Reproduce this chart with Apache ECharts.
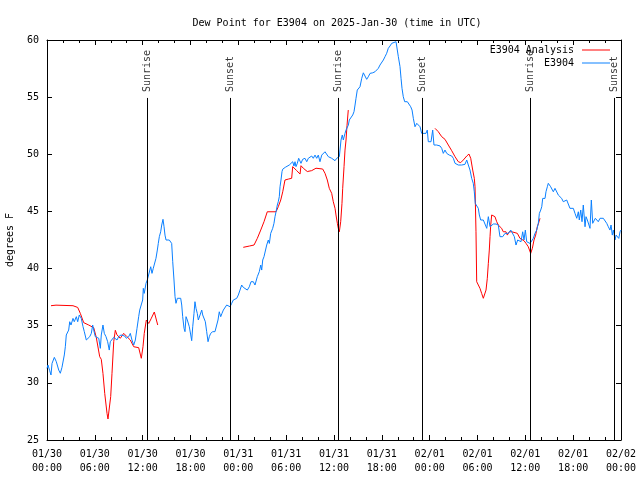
<!DOCTYPE html>
<html>
<head>
<meta charset="utf-8">
<script src="https://cdn.jsdelivr.net/npm/echarts@6/dist/echarts.min.js"></script>
<style>html,body{margin:0;padding:0;background:#fff}#c{width:640px;height:480px}</style>
</head>
<body>
<div id="c"></div>
<script>
// hours since 01/30 00:00 UTC
const tickLabels = ['01/30\n00:00','01/30\n06:00','01/30\n12:00','01/30\n18:00','01/31\n00:00','01/31\n06:00','01/31\n12:00','01/31\n18:00','02/01\n00:00','02/01\n06:00','02/01\n12:00','02/01\n18:00','02/02\n00:00'];
const sunHours = [12.58, 23.0, 36.55, 47.09, 60.64, 71.18];
const sunLabels = ['Sunrise','Sunset','Sunrise','Sunset','Sunrise','Sunset'];

const obsHours = [0,0.125,0.34,0.5,0.63,0.92,1.17,1.47,1.67,1.88,2.17,2.3,2.42,2.6,2.72,2.85,3.01,3.26,3.42,3.68,3.85,4.05,4.3,4.52,4.68,4.93,5.11,5.36,5.56,5.73,5.86,6.06,6.27,6.49,6.69,6.81,7.02,7.19,7.4,7.61,7.81,7.94,8.15,8.37,8.57,8.78,8.99,9.28,9.53,9.75,9.95,10.25,10.45,10.66,10.88,11.08,11.29,11.5,11.63,11.79,12.0,12.08,12.2,12.42,12.58,12.83,13.01,13.17,13.33,13.55,13.67,13.84,13.96,14.09,14.26,14.39,14.55,14.68,14.8,14.93,15.09,15.34,15.52,15.64,15.77,15.93,16.06,16.18,16.35,16.6,16.77,16.9,17.02,17.19,17.31,17.44,17.6,17.85,18.03,18.15,18.28,18.44,18.56,18.69,18.85,18.98,19.19,19.41,19.53,19.69,19.86,20.03,20.2,20.36,20.53,20.79,21.07,21.29,21.45,21.61,21.79,21.95,22.12,22.33,22.54,22.74,22.96,23.17,23.37,23.58,23.8,24.0,24.21,24.42,24.62,24.84,25.13,25.38,25.59,25.88,26.09,26.22,26.38,26.63,26.81,26.93,27.06,27.22,27.35,27.56,27.76,27.89,28.06,28.31,28.47,28.6,28.73,28.89,29.01,29.14,29.23,29.35,29.48,29.57,29.73,29.89,30.14,30.39,30.57,30.82,30.98,31.11,31.23,31.4,31.57,31.74,31.86,32.07,32.36,32.58,32.78,32.99,33.2,33.4,33.62,33.83,34.03,34.24,34.46,34.66,34.87,35.09,35.29,35.5,35.71,35.91,36.13,36.34,36.54,36.67,36.88,37.04,37.17,37.38,37.51,37.67,37.8,37.92,38.1,38.35,38.51,38.64,38.76,38.92,39.05,39.26,39.48,39.68,39.89,40.1,40.3,40.52,40.86,41.14,41.36,41.56,41.77,41.98,42.19,42.4,42.61,42.81,43.03,43.24,43.44,43.78,43.94,44.07,44.28,44.41,44.53,44.69,44.87,45.03,45.2,45.45,45.62,45.79,45.95,46.16,46.38,46.58,46.79,47.0,47.2,47.54,47.7,47.83,48.17,48.38,48.54,48.88,49.3,49.51,49.71,49.92,50.14,50.46,50.77,50.97,51.18,51.59,52.02,52.43,52.65,52.85,53.06,53.27,53.47,53.6,53.72,53.9,54.1,54.23,54.4,54.57,54.73,54.94,55.16,55.36,55.57,55.78,55.98,56.32,56.61,56.82,57.16,57.45,57.66,57.87,58.17,58.42,58.62,58.83,59.04,59.25,59.46,59.67,59.83,60.0,60.17,60.37,60.59,60.8,61.0,61.21,61.43,61.63,61.76,61.93,62.06,62.18,62.34,62.47,62.59,62.76,62.88,63.01,63.18,63.35,63.51,63.72,63.94,64.14,64.35,64.56,64.76,64.98,65.19,65.39,65.6,65.82,66.02,66.23,66.45,66.65,66.77,66.95,67.11,67.27,67.49,67.61,67.78,67.95,68.11,68.28,68.45,68.62,68.78,68.95,69.15,69.37,69.58,69.78,70.0,70.21,70.41,70.62,70.75,70.91,71.04,71.25,71.38,71.54,71.72,71.88,72.0];
const obsValues = [31.27,31.56,31.06,30.69,31.7,32.23,31.85,31.12,30.84,31.36,32.44,33.16,34.19,34.04,34.62,35.35,35.06,35.64,35.35,35.79,35.35,35.94,35.64,34.91,34.48,33.75,33.6,34.04,34.33,35.06,34.62,34.04,34.19,33.9,33.02,34.19,35.06,34.33,34.04,33.6,32.87,33.6,33.46,33.98,33.9,33.75,34.04,34.19,34.33,34.1,33.9,34.04,34.33,33.75,33.31,33.75,34.77,35.79,36.37,36.22,37.25,38.27,37.83,38.71,39.0,39.15,40.16,39.58,40.02,39.87,40.9,41.62,42.2,42.79,43.22,43.81,44.31,43.66,42.93,42.5,42.35,42.5,42.64,42.2,40.6,39.0,37.54,36.96,37.4,37.25,37.4,36.81,35.79,34.77,34.48,35.79,35.5,34.91,34.19,33.69,34.91,36.08,37.1,36.52,36.08,35.5,35.5,36.37,35.94,36.08,35.35,34.48,33.6,34.04,34.33,34.48,34.48,34.62,35.5,36.22,35.79,36.08,36.37,36.52,36.81,36.96,36.66,36.96,37.25,37.1,37.4,37.69,38.12,38.56,38.36,38.27,38.12,38.41,38.85,38.85,38.56,38.41,39.29,39.73,40.31,39.87,40.75,41.04,41.18,42.06,42.5,42.2,43.08,43.52,43.96,44.54,44.97,45.56,45.85,46.29,47.16,47.75,48.49,48.7,48.57,48.86,48.97,49.06,49.21,49.35,48.97,49.35,48.92,49.21,49.65,49.79,49.21,49.56,49.65,49.35,49.65,49.5,49.85,49.65,49.93,49.65,49.93,49.35,49.93,49.93,50.22,50.22,49.79,49.65,49.65,49.56,49.44,49.65,49.65,49.79,51.25,51.69,51.25,51.83,52.12,52.12,52.56,53.0,53.0,53.44,53.73,54.31,54.9,55.62,55.77,55.91,56.65,57.13,57.08,56.56,56.78,57.08,57.13,57.22,57.37,57.52,57.81,57.96,58.25,58.54,58.84,59.27,59.48,59.71,59.77,59.85,59.71,58.54,57.67,56.65,55.77,55.04,54.6,54.75,54.6,54.69,54.16,53.87,53.15,52.41,52.71,52.85,52.41,51.83,51.77,51.83,52.12,51.1,51.1,52.12,50.81,50.81,50.73,50.52,50.08,50.37,50.08,49.93,49.85,49.65,49.21,49.06,49.06,49.12,49.5,49.06,48.62,47.9,47.46,46.72,45.7,45.7,45.27,44.69,44.25,44.1,44.25,44.1,43.52,44.54,43.66,43.81,43.9,43.9,43.81,42.79,42.79,43.08,43.14,43.08,43.37,43.22,42.79,42.06,42.5,42.5,42.35,43.22,42.5,43.37,42.35,42.5,42.2,42.35,42.64,43.08,43.37,43.96,44.83,45.12,45.41,46.14,46.29,46.14,46.72,47.16,47.46,47.6,47.16,47.31,46.72,47.02,46.87,46.43,46.29,46.14,45.85,45.7,46.0,45.85,45.27,45.12,45.27,44.83,44.4,44.97,44.25,45.12,44.1,45.56,43.66,44.54,44.25,44.1,43.52,46.0,43.96,44.1,44.4,44.25,44.1,44.4,44.4,44.4,44.25,43.96,43.66,43.37,43.81,42.93,43.37,42.5,42.93,42.79,42.64,43.22,43.37];

const anaHours = [0.5,1.13,3.26,3.85,4.18,4.6,5.23,5.86,6.18,6.61,6.81,7.02,7.24,7.53,7.65,7.87,7.99,8.15,8.37,8.57,8.78,9.19,9.62,10.03,10.45,10.88,11.5,11.83,12.04,12.2,12.46,12.76,13.05,13.46,13.67,13.89,18,24.62,25.38,25.97,26.38,26.81,27.22,27.63,28.73,29.01,29.32,29.57,29.85,30.27,30.69,30.82,31.32,31.74,31.86,32.15,32.65,33.2,33.74,34.58,34.87,35.16,35.41,35.71,35.91,36.13,36.25,36.42,36.54,36.67,36.84,37.0,37.09,37.26,37.38,37.51,37.63,37.79,42,48.67,49.08,49.51,49.92,50.34,50.77,51.18,51.59,51.89,52.22,52.65,52.93,53.15,53.4,53.6,53.69,53.81,53.9,54.1,54.31,54.52,54.73,54.94,55.07,55.23,55.36,55.48,55.57,55.66,55.78,55.98,56.19,56.41,56.61,56.82,57.03,57.23,57.57,57.74,57.99,58.29,58.71,59.0,59.33,59.55,59.83,60.09,60.37,60.67,60.88,61.09,61.3,61.5,61.72,61.84];
const anaValues = [36.75,36.8,36.75,36.6,36.08,35.27,35.06,34.83,33.98,32.29,32.06,30.83,29.08,27.33,26.84,26.84,28.8,30.8,33.6,34.6,34.2,33.9,34.33,34.04,33.75,33.16,33.08,32.15,33.16,34.33,35.5,35.2,35.6,36.2,36.2,35.06,null,41.86,41.97,42.06,42.64,43.37,44.1,44.97,44.97,45.41,46.0,46.72,47.75,47.83,47.9,48.92,48.57,48.27,49.0,48.78,48.49,48.57,48.78,48.71,48.34,47.75,47.02,46.58,45.85,45.27,44.69,43.96,43.52,43.22,44.1,45.7,47.02,48.92,50.37,51.25,52.5,53.87,null,52.27,51.98,51.54,51.31,50.81,50.31,49.79,49.35,49.27,49.5,49.85,50.02,49.65,48.62,47.9,47.16,43.22,38.85,38.71,38.27,37.83,37.4,37.4,38.12,39.15,40.46,41.62,42.79,43.81,44.69,44.83,44.54,44.1,43.81,43.81,43.52,43.22,43.22,42.93,43.22,43.22,43.14,43.08,42.64,42.5,42.44,42.2,41.91,41.33,41.77,42.5,42.93,43.66,44.1,44.4];

const FONT = 'DejaVu Sans Mono';
const yMin = 25, yMax = 60, sunLineTop = 54.93, sunLabelBase = 55.45;

const chart = echarts.init(document.getElementById('c'), null, {renderer: 'canvas'});
const pair = (hs, vs) => hs.map((h, i) => [h, vs[i] === null ? '-' : vs[i]]);

const axisCommon = {
  type: 'value', min: 0, max: 72, interval: 6,
  axisLine: {show: true, onZero: false, lineStyle: {color: '#000', width: 1}},
  axisTick: {show: true, inside: true, length: 5, lineStyle: {color: '#000'}},
  minorTick: {show: true, splitNumber: 3, length: 3, lineStyle: {color: '#000'}},
  splitLine: {show: false}
};
const yCommon = {
  type: 'value', min: yMin, max: yMax, interval: 5,
  axisLine: {show: true, onZero: false, lineStyle: {color: '#000', width: 1}},
  axisTick: {show: true, inside: true, length: 5, lineStyle: {color: '#000'}},
  splitLine: {show: false}
};

chart.setOption({
  animation: false,
  backgroundColor: '#fff',
  textStyle: {fontFamily: FONT},
  title: {
    text: 'Dew Point for E3904 on 2025-Jan-30 (time in UTC)',
    left: 332, top: 13, textAlign: 'center',
    textStyle: {fontFamily: FONT, fontSize: 10, fontWeight: 'normal', color: '#000'}
  },
  legend: {
    data: ['E3904 Analysis', 'E3904'],
    orient: 'vertical', right: 30, top: 44, align: 'right', padding: 0,
    itemWidth: 28, itemHeight: 1, itemGap: 1, icon: 'rect',
    textStyle: {fontFamily: FONT, fontSize: 10, color: '#000', lineHeight: 12, padding: [0, 3, 0, 0]}
  },
  grid: {left: 47, right: 19, top: 40, bottom: 40, containLabel: false, outerBoundsMode: 'none'},
  xAxis: [
    Object.assign({}, axisCommon, {
      position: 'bottom',
      axisLabel: {fontFamily: FONT, fontSize: 10, color: '#000', margin: 7, lineHeight: 14,
        formatter: v => tickLabels[Math.round(v / 6)] || ''}
    }),
    Object.assign({}, axisCommon, {position: 'top', axisLabel: {show: false}})
  ],
  yAxis: [
    Object.assign({}, yCommon, {
      position: 'left',
      name: 'degrees F', nameLocation: 'middle', nameGap: 32, nameRotate: 90,
      nameTextStyle: {fontFamily: FONT, fontSize: 10, color: '#000'},
      axisLabel: {fontFamily: FONT, fontSize: 10, color: '#000', margin: 8}
    }),
    Object.assign({}, yCommon, {position: 'right', axisLabel: {show: false}})
  ],
  series: [
    {
      name: 'E3904 Analysis', type: 'line', data: pair(anaHours, anaValues),
      showSymbol: false, symbol: 'none', connectNulls: false,
      lineStyle: {color: '#ff0000', width: 1}, itemStyle: {color: '#ff0000'},
      markLine: {
        silent: true, symbol: ['none', 'none'], animation: false,
        label: {show: false},
        lineStyle: {color: '#000', width: 1, type: 'solid'},
        data: sunHours.map(h => [{coord: [h, yMin]}, {coord: [h, sunLineTop]}])
      }
    },
    {
      name: 'E3904', type: 'line', data: pair(obsHours, obsValues),
      showSymbol: false, symbol: 'none',
      lineStyle: {color: '#0a80ff', width: 1}, itemStyle: {color: '#0a80ff'}
    },
    {
      name: 'sun', type: 'scatter', silent: true,
      data: sunHours.map((h, i) => ({value: [h, sunLabelBase], label: {formatter: sunLabels[i]}})),
      symbolSize: 1, itemStyle: {color: 'rgba(0,0,0,0)'},
      label: {show: true, position: 'inside', rotate: 90, align: 'left', verticalAlign: 'middle',
        fontFamily: FONT, fontSize: 10, color: '#000'}
    }
  ]
});
</script>
</body>
</html>
